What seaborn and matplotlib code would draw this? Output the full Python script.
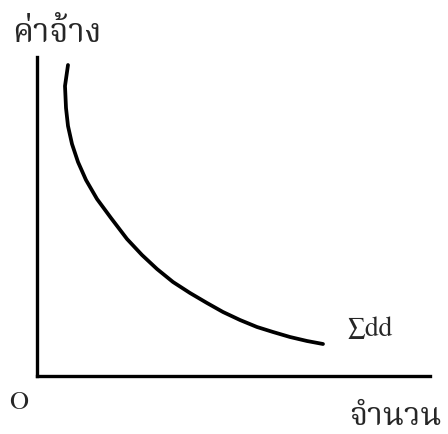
import matplotlib
matplotlib.use("Agg")
import matplotlib.pyplot as plt
import seaborn as sns
import pandas as pd

# demand curve for labour (axis units ~ pixels from origin)
quantity = [31, 28, 29, 31, 35, 41, 49, 60, 74, 90, 105, 120, 136, 153, 170,
            186, 203, 220, 236, 253, 270, 286]
wage = [311, 290, 268, 250, 232, 214, 196, 177, 158, 137, 121, 107, 94, 83, 73,
        64, 56, 49, 44, 39, 35, 32]

y_label = "ค่าจ้าง"
x_label = "จำนวน"
origin_label = "O"
curve_label = "∑dd"

sns.set_theme(style="white")
FONTS = ["FreeSerif", "Noto Serif Thai", "Liberation Serif", "DejaVu Sans"]
THAI = ["Noto Serif Thai", "FreeSerif", "DejaVu Sans"]
plt.rcParams["font.family"] = FONTS

df = pd.DataFrame({"q": quantity, "w": wage})

fig = plt.figure(figsize=(4.48, 4.34), dpi=100)
ax = fig.add_axes([37 / 448, (434 - 376) / 434, (430 - 37) / 448, (376 - 57) / 434])

# estimator=None: x repeats near the top, so no averaging
sns.lineplot(data=df, x="q", y="w", sort=False, estimator=None, color="black",
             linewidth=2.7, solid_capstyle="round", solid_joinstyle="round", ax=ax)

ax.set_xlim(0, 393)
ax.set_ylim(0, 319)
ax.set_xticks([])
ax.set_yticks([])
ax.set_xlabel("")
ax.set_ylabel("")
for side in ["top", "right"]:
    ax.spines[side].set_visible(False)
for side in ["left", "bottom"]:
    ax.spines[side].set_color("black")
    ax.spines[side].set_linewidth(2.4)
ax.patch.set_alpha(0)

ax.text(-25, 334, y_label, fontsize=24, family=THAI, ha="left", va="baseline", clip_on=False)
ax.text(-28, -33, origin_label, fontsize=19, ha="left", va="baseline", clip_on=False)
ax.text(405, -49, x_label, fontsize=23, family=THAI, ha="right", va="baseline", clip_on=False)
ax.text(311, 40, curve_label, fontsize=20, ha="left", va="baseline", clip_on=False)

fig.savefig("out.png", dpi=100)
